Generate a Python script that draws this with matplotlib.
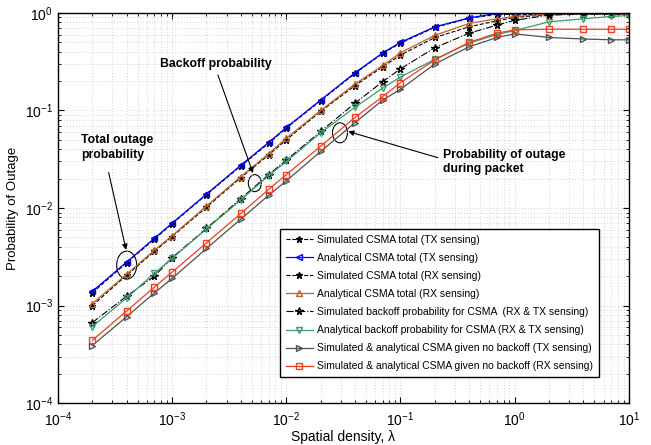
import matplotlib

matplotlib.use("agg")
import matplotlib.pyplot as plt
import matplotlib.transforms as mtransforms
from matplotlib.patches import Ellipse

plt.rcParams["font.family"] = ["Liberation Sans", "DejaVu Sans"]
plt.rcParams["mathtext.fontset"] = "custom"
plt.rcParams["mathtext.rm"] = "Liberation Sans"
plt.rcParams["mathtext.it"] = "Liberation Sans:italic"

# spatial density values
density = [2e-4, 4e-4, 7e-4, 1e-3, 2e-3, 4e-3, 7e-3, 1e-2, 2e-2, 4e-2,
           7e-2, 0.1, 0.2, 0.4, 0.7, 1, 2, 4, 7, 10]

sim_tx_total = [1.35e-3, 2.75e-3, 4.8e-3, 6.9e-3, 0.0137, 0.027, 0.046, 0.066, 0.126, 0.24,
                0.385, 0.49, 0.71, 0.88, 0.97, 0.96, 0.97, 0.98, 0.98, 0.985]
ana_tx_total = [1.4e-3, 2.8e-3, 4.9e-3, 7.0e-3, 0.0139, 0.0275, 0.047, 0.067, 0.128, 0.244,
                0.39, 0.50, 0.72, 0.89, 0.99, 1.0, 1.0, 1.0, 1.0, 1.0]
sim_rx_total = [1.0e-3, 2.05e-3, 3.6e-3, 5.1e-3, 0.0102, 0.0205, 0.035, 0.050, 0.098, 0.18,
                0.28, 0.37, 0.56, 0.72, 0.83, 0.90, 0.96, 0.97, 0.975, 0.98]
ana_rx_total = [1.05e-3, 2.1e-3, 3.7e-3, 5.2e-3, 0.0105, 0.021, 0.036, 0.052, 0.10, 0.187,
                0.29, 0.39, 0.59, 0.78, 0.87, 0.92, 0.97, 0.98, 0.98, 0.985]
sim_backoff = [6.7e-4, 1.25e-3, 2.0e-3, 3.1e-3, 6.2e-3, 0.0125, 0.022, 0.031, 0.061, 0.119,
               0.198, 0.267, 0.44, 0.62, 0.75, 0.84, 0.95, 0.97, 0.97, 0.975]
ana_backoff = [6.1e-4, 1.2e-3, 2.15e-3, 3.05e-3, 6.1e-3, 0.0121, 0.0215, 0.030, 0.059, 0.108,
               0.17, 0.22, 0.335, 0.49, 0.60, 0.66, 0.81, 0.87, 0.92, 0.94]
nobackoff_tx = [3.9e-4, 7.7e-4, 1.35e-3, 1.9e-3, 3.85e-3, 7.7e-3, 0.0135, 0.019, 0.038, 0.075,
                0.128, 0.165, 0.30, 0.45, 0.56, 0.61, 0.56, 0.54, 0.53, 0.53]
nobackoff_rx = [4.4e-4, 8.8e-4, 1.55e-3, 2.2e-3, 4.4e-3, 8.8e-3, 0.0155, 0.022, 0.043, 0.085,
                0.139, 0.193, 0.33, 0.50, 0.62, 0.67, 0.68, 0.68, 0.68, 0.68]

labels = [
    "Simulated CSMA total (TX sensing)",
    "Analytical CSMA total (TX sensing)",
    "Simulated CSMA total (RX sensing)",
    "Analytical CSMA total (RX sensing)",
    "Simulated backoff probability for CSMA  (RX & TX sensing)",
    "Analytical backoff probability for CSMA (RX & TX sensing)",
    "Simulated & analytical CSMA given no backoff (TX sensing)",
    "Simulated & analytical CSMA given no backoff (RX sensing)",
]

BLUE = "#0000ff"
BROWN = "#c0602a"
GREEN = "#3c9a6c"
GRAY = "#505050"
RED = "#ee3f1f"

fig = plt.figure(figsize=(6.51, 4.45), dpi=100)
ax = fig.add_axes([0.089, 0.094, 0.877, 0.877])

ms = 4.5
ax.plot(density, sim_tx_total, "--", color="k", lw=0.8, marker="*", ms=ms, label=labels[0])
ax.plot(density, ana_tx_total, "-", color=BLUE, lw=0.9, marker="<", ms=ms, mfc="none", label=labels[1])
ax.plot(density, sim_rx_total, "--", color="k", lw=0.8, marker="*", ms=ms, label=labels[2])
ax.plot(density, ana_rx_total, "-", color=BROWN, lw=0.9, marker="^", ms=ms, mfc="none", label=labels[3])
ax.plot(density, sim_backoff, "-.", color="k", lw=0.8, marker="*", ms=ms + 1, mfc="none", label=labels[4])
ax.plot(density, ana_backoff, "-", color=GREEN, lw=0.9, marker="v", ms=ms, mfc="none", label=labels[5])
ax.plot(density, nobackoff_tx, "-", color=GRAY, lw=0.9, marker=">", ms=ms, mfc="none", label=labels[6])
ax.plot(density, nobackoff_rx, "-", color=RED, lw=0.9, marker="s", ms=ms - 0.5, mfc="none", label=labels[7])

ax.set_xscale("log")
ax.set_yscale("log")
ax.set_xlim(1e-4, 10)
ax.set_ylim(1e-4, 1)

ax.grid(True, which="both", ls=(0, (1, 2.5)), color="#c4c4c4", lw=0.6)
ax.tick_params(which="both", direction="in", top=True, right=True, labelsize=10)
ax.tick_params(which="major", length=4)
ax.tick_params(which="minor", length=2)
ax.tick_params(axis="x", pad=5)
for s in ax.spines.values():
    s.set_linewidth(1.0)

ax.set_xlabel("Spatial density, λ", fontsize=10, labelpad=1)
ax.set_ylabel("Probability of Outage", fontsize=9.5, labelpad=4)

leg = ax.legend(loc="lower right", bbox_to_anchor=(0.947, 0.0667), borderaxespad=0,
                fontsize=7.5, fancybox=False, framealpha=1, edgecolor="k",
                handlelength=2.6, labelspacing=0.78, borderpad=0.55, handletextpad=0.4)
leg.get_frame().set_linewidth(1.0)


def ring(xd, yd, w, h):
    tr = fig.dpi_scale_trans + mtransforms.ScaledTranslation(xd, yd, ax.transData)
    ax.add_patch(Ellipse((0, 0), w / 100, h / 100, transform=tr, fill=False, color="k", lw=0.8, clip_on=False))


ring(4.0e-4, 2.6e-3, 20, 28)
ring(5.3e-3, 0.018, 13, 17)
ring(0.0295, 0.059, 15, 20)

arrow = dict(arrowstyle="-|>", color="k", lw=0.8, mutation_scale=8)
ax.annotate("Total outage\nprobability", xy=(4.0e-4, 3.4e-3), xytext=(0.04, 0.62),
            textcoords="axes fraction", fontsize=8.8, fontweight="bold", ha="left", va="bottom",
            linespacing=1.35)
ax.annotate("", xy=(4.0e-4, 3.5e-3), xytext=(0.0877, 0.598), textcoords="axes fraction",
            arrowprops=arrow)
ax.annotate("Backoff probability", xy=(5.2e-3, 0.0215), xytext=(0.179, 0.87),
            textcoords="axes fraction", fontsize=8.8, fontweight="bold", ha="left", va="center",
            arrowprops=dict(arrow, relpos=(0.5, 0)))
ax.annotate("Probability of outage\nduring packet", xy=(0.033, 0.062), xytext=(0.675, 0.617),
            textcoords="axes fraction", fontsize=8.8, fontweight="bold", ha="left", va="center",
            arrowprops=dict(arrow, relpos=(0, 0.62)))

fig.savefig("out.png", dpi=100)
